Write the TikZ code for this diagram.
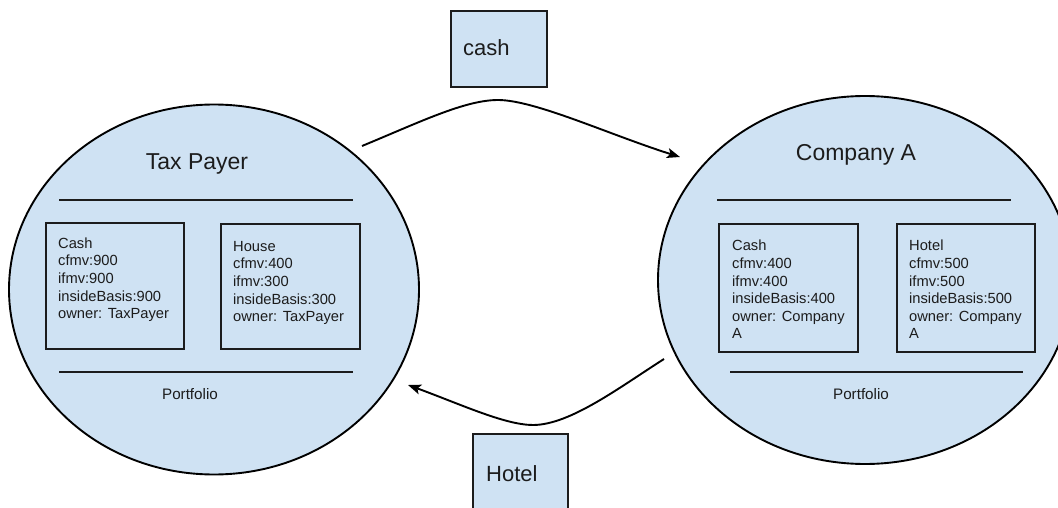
\documentclass[tikz,border=0pt]{standalone}
\usepackage{fontspec}
\setmainfont{Liberation Sans}
\usetikzlibrary{shapes.geometric,arrows.meta}
\definecolor{paleblue}{HTML}{CFE2F3}
\definecolor{ink}{HTML}{1C1C1C}
\begin{document}
\begin{tikzpicture}[x=1pt,y=-1pt,
  party/.style={ellipse,draw=black,line width=1.9pt,fill=paleblue,inner sep=0pt},
  asset/.style={rectangle,draw=ink,line width=1.9pt,inner sep=0pt},
  token/.style={rectangle,draw=ink,line width=1.9pt,fill=paleblue,inner sep=0pt},
  title/.style={anchor=base,inner sep=0pt,text=ink,font=\fontsize{23}{27}\selectfont},
  label/.style={anchor=base west,inner sep=0pt,text=ink,font=\fontsize{22}{26}\selectfont},
  fields/.style={anchor=north west,inner sep=0pt,align=left,text=ink,font=\fontsize{14.7}{17.6}\selectfont},
  caption/.style={anchor=base,inner sep=0pt,text=ink,font=\fontsize{15.2}{17}\selectfont},
  rule/.style={draw=ink,line width=1.9pt},
  flow/.style={draw=black,line width=1.9pt,-{Stealth[length=13pt,width=10pt,inset=3pt]}}
]
\useasboundingbox (0,0) rectangle (1058,508);
\clip (0,0) rectangle (1058,508);

% the two parties
\node[party,minimum width=410pt,minimum height=370pt] (taxpayer) at (214,289.5) {};
\node[party,minimum width=414pt,minimum height=368pt] (company) at (865,280) {};

% Tax Payer portfolio
\node[title] (tpTitle) at (197,170) {Tax Payer};
\draw[rule] (59,200) -- (353,200);
\draw[rule] (59,372) -- (353,372);
\node[asset,minimum width=138pt,minimum height=126pt] (tpCash) at (115,286) {};
\node[asset,minimum width=139pt,minimum height=125pt] (tpHouse) at (290.5,286.5) {};
\node[fields] (tpCashText) at (58,237.5) {Cash\\cfmv:900\\ifmv:900\\insideBasis:900\\owner: TaxPayer};
\node[fields] (tpHouseText) at (233,241) {House\\cfmv:400\\ifmv:300\\insideBasis:300\\owner: TaxPayer};
\node[caption] (tpPortfolio) at (190,399) {Portfolio};

% Company A portfolio
\node[title] (coTitle) at (856,160.5) {Company A};
\draw[rule] (717,200) -- (1011,200);
\draw[rule] (730,372) -- (1023,372);
\node[asset,minimum width=139pt,minimum height=128pt] (coCash) at (788.5,288) {};
\node[asset,minimum width=138pt,minimum height=128pt] (coHotel) at (966,288) {};
\node[fields] (coCashText) at (732,240) {Cash\\cfmv:400\\ifmv:400\\insideBasis:400\\owner: Company\\A};
\node[fields] (coHotelText) at (909,240) {Hotel\\cfmv:500\\ifmv:500\\insideBasis:500\\owner: Company\\A};
\node[caption] (coPortfolio) at (861,399) {Portfolio};

% exchanged items
\node[token,minimum width=96pt,minimum height=76pt] (cashToken) at (499,49) {};
\node[label] (cashLabel) at (463,56) {cash};
\node[token,minimum width=95pt,minimum height=90pt] (hotelToken) at (520.5,479) {};
\node[label] (hotelLabel) at (486,481) {Hotel};

% transfer arrows
\coordinate (payOut) at (362,146);
\coordinate (payIn) at (680,157);
\coordinate (deedOut) at (664,359);
\coordinate (deedIn) at (408,385);
\draw[flow] (payOut) .. controls (420,122) and (465,100) .. (498,100)
  .. controls (535,100) and (610,135) .. (payIn);
\draw[flow] (deedOut) .. controls (620,387) and (570,425) .. (533,425)
  .. controls (505,425) and (460,404) .. (deedIn);
\end{tikzpicture}
\end{document}
